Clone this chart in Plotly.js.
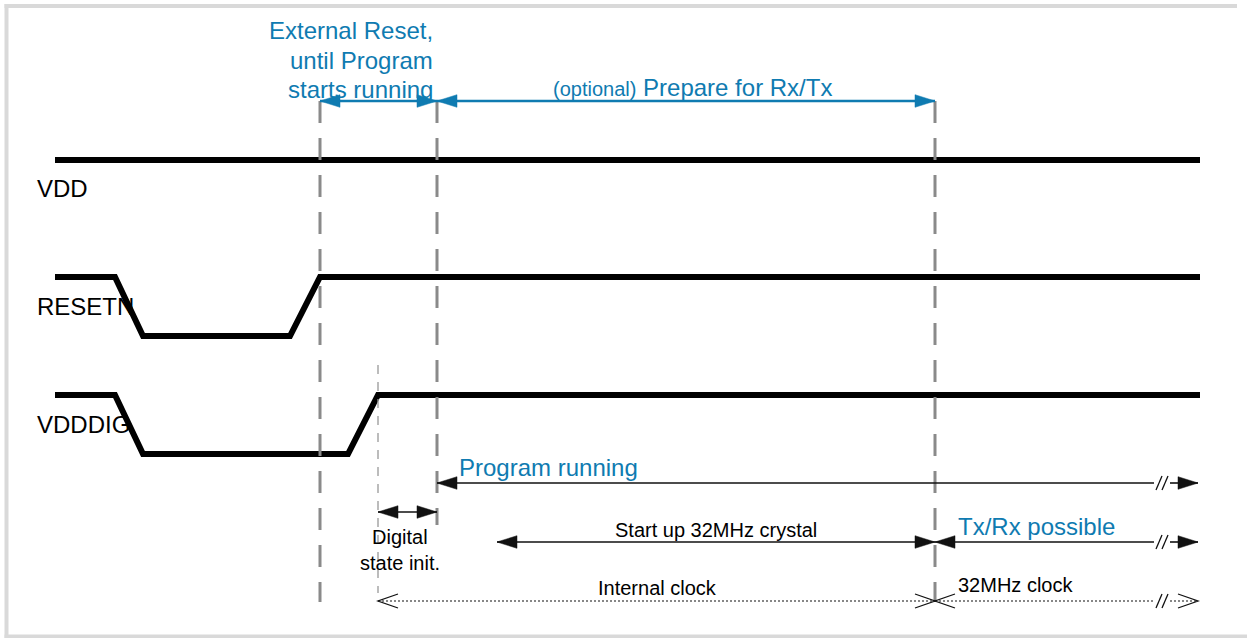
<!DOCTYPE html>
<html><head><meta charset="utf-8">
<script src="https://cdn.plot.ly/plotly-3.0.1.min.js"></script>
<style>html,body{margin:0;padding:0;background:#fff;overflow:hidden}</style>
</head><body><div id="chart" style="width:1247px;height:638px"></div>
<script>
// ---------------- data ----------------
const signalNames = ['VDD', 'RESETN', 'VDDDIG'];
const vddTime = [55, 1200];
const vddLevel = [1, 1];
const resetnTime = [55, 115, 143, 290, 320, 1200];
const resetnLevel = [1, 1, 0, 0, 1, 1];
const vdddigTime = [55, 115, 143, 348, 378, 1200];
const vdddigLevel = [1, 1, 0, 0, 1, 1];

// reset released, program starts, crystal ready
const eventTimes = [320, 437, 935];
const digInitTime = 378;

const phaseLabels = [
  'External Reset,<br>until Program<br>starts running',
  '<span style="font-size:20px">(optional)</span> Prepare for Rx/Tx',
  'Program running',
  'Digital<br>state init.',
  'Start up 32MHz crystal',
  'Tx/Rx possible',
  'Internal clock',
  '32MHz clock'
];
const phaseStart = [320, 437, 437, 378, 497, 935, 378, 935];
const phaseEnd   = [437, 935, 1198, 437, 935, 1198, 935, 1198];

// ---------------- layout / style ----------------
const BLUE = '#0f7bb1';
const GREY = '#8a8a8a';
const rowHigh = [160, 277, 395];
const swing = 59;
const labelY = [188, 306, 424];
const eventLineEnd = [602, 525, 602];
const phaseStyle = [
  {y: 101, c: BLUE, kind: 'solid', brk: false, lx: 435, ly: [30, 60, 89], xa: 'right', fs: 24, col: BLUE},
  {y: 101, c: BLUE, kind: 'solid', brk: false, lx: 692, ly: [87], xa: 'center', fs: 24, col: BLUE},
  {y: 483, c: '#111', kind: 'solid', brk: true, lx: 457, ly: [467], xa: 'left', fs: 24, col: BLUE},
  {y: 512, c: '#111', kind: 'solid', brk: false, lx: 400, ly: [537, 563], xa: 'center', fs: 20},
  {y: 542, c: '#111', kind: 'solid', brk: false, lx: 716, ly: [530], xa: 'center', fs: 20},
  {y: 542, c: '#111', kind: 'solid', brk: true, lx: 956, ly: [526], xa: 'left', fs: 24, col: BLUE},
  {y: 601, c: '#111', kind: 'dotted', brk: false, lx: 657, ly: [588], xa: 'center', fs: 20},
  {y: 601, c: '#111', kind: 'dotted', brk: true, lx: 956, ly: [585], xa: 'left', fs: 20}
];

const FONT = 'Liberation Sans, Arial, sans-serif';
const traces = [];
const shapes = [];
const annotations = [];

// frame
const frame = {type: 'line', xref: 'x', yref: 'y', line: {color: '#d9d9d9', width: 4}, layer: 'below'};
shapes.push(Object.assign({}, frame, {x0: 6.5, x1: 6.5, y0: 4, y1: 638}));
shapes.push(Object.assign({}, frame, {x0: 4.5, x1: 1237, y0: 6, y1: 6}));
shapes.push(Object.assign({}, frame, {x0: 4.5, x1: 1247, y0: 636.5, y1: 636.5}));

// event dashed lines
eventTimes.forEach((t, i) => {
  shapes.push({type: 'line', xref: 'x', yref: 'y', x0: t, x1: t, y0: 101, y1: eventLineEnd[i],
    line: {color: GREY, width: 3, dash: '22px,15px'}});
});
shapes.push({type: 'line', xref: 'x', yref: 'y', x0: digInitTime, x1: digInitTime, y0: 365, y1: 593,
  line: {color: '#999', width: 1.3, dash: '9px,8px'}});

// signals
const sigs = [[vddTime, vddLevel], [resetnTime, resetnLevel], [vdddigTime, vdddigLevel]];
sigs.forEach((s, i) => {
  traces.push({x: s[0], y: s[1].map(l => rowHigh[i] + (1 - l) * swing), mode: 'lines',
    line: {color: '#000', width: 6}, hoverinfo: 'skip', cliponaxis: false});
  annotations.push({x: 35, y: labelY[i], xref: 'x', yref: 'y', text: signalNames[i], showarrow: false,
    xanchor: 'left', yanchor: 'middle', font: {family: FONT, size: 24, color: '#000'}});
});

// arrows
const HL = 20, HW = 6.3;
function filledHead(xt, y, dir, c) {
  const xb = xt - dir * HL;
  shapes.push({type: 'path', xref: 'x', yref: 'y', path: `M${xt},${y} L${xb},${y - HW} L${xb},${y + HW} Z`,
    fillcolor: c, line: {color: c, width: 0.5}});
}
function openHead(xt, y, dir, c) {
  const xb = xt - dir * HL;
  shapes.push({type: 'path', xref: 'x', yref: 'y', path: `M${xb},${y - 7} L${xt},${y} L${xb},${y + 7}`,
    line: {color: c, width: 1.3}});
}
function seg(x0, x1, y, c, kind) {
  shapes.push({type: 'line', xref: 'x', yref: 'y', x0, x1, y0: y, y1: y,
    line: {color: c, width: kind === 'dotted' ? 1.2 : (c === BLUE ? 2.4 : 1.6), dash: kind === 'dotted' ? '2px,2px' : 'solid'}});
}
phaseLabels.forEach((lab, i) => {
  const st = phaseStyle[i];
  const x0 = phaseStart[i], x1 = phaseEnd[i], y = st.y;
  const head = st.kind === 'dotted' ? openHead : filledHead;
  if (st.brk) {
    const bx = 1162;
    seg(x0, bx - 8, y, st.c, st.kind);
    seg(bx + 8, x1, y, st.c, st.kind);
    [-3, 3].forEach(o => shapes.push({type: 'line', xref: 'x', yref: 'y',
      x0: bx + o - 3, x1: bx + o + 3, y0: y + 7, y1: y - 7, line: {color: '#111', width: 1.3}}));
  } else {
    seg(x0, x1, y, st.c, st.kind);
  }
  head(x0, y, -1, st.c);
  head(x1, y, 1, st.c);
  lab.split('<br>').forEach((t, k) => {
    annotations.push({x: st.lx, y: st.ly[k], xref: 'x', yref: 'y', text: t, showarrow: false,
      xanchor: st.xa, yanchor: 'middle', font: {family: FONT, size: st.fs, color: st.col || '#000'}});
  });
});

const layout = {
  width: 1247, height: 638, margin: {l: 0, r: 0, t: 0, b: 0},
  paper_bgcolor: '#fff', plot_bgcolor: '#fff', showlegend: false,
  xaxis: {range: [0, 1247], visible: false, fixedrange: true},
  yaxis: {range: [638, 0], visible: false, fixedrange: true},
  shapes, annotations
};
Plotly.newPlot('chart', traces, layout, {staticPlot: true, displayModeBar: false});
</script></body></html>
